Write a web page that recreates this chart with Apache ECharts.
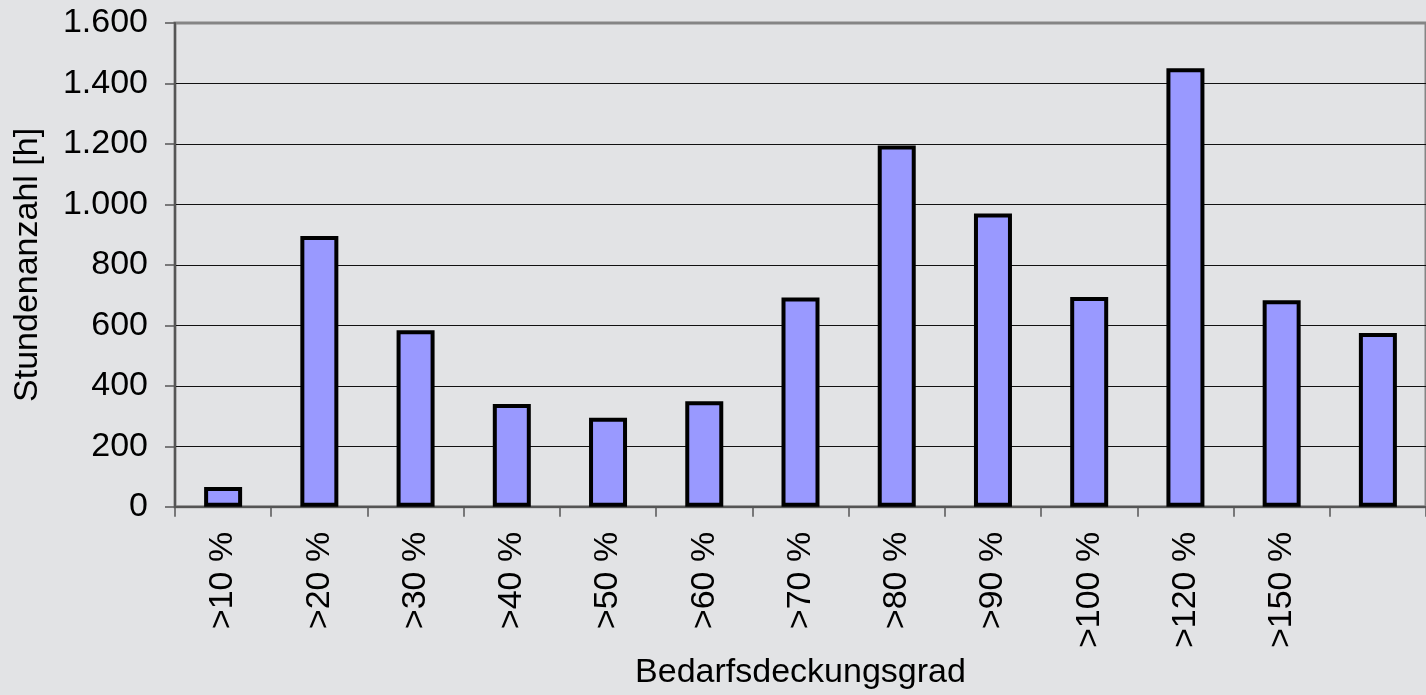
<!DOCTYPE html>
<html>
<head>
<meta charset="utf-8">
<style>
  html, body { margin: 0; padding: 0; background: #e2e3e5; overflow: hidden; }
  #chart { width: 1426px; height: 695px; }
</style>
<script src="https://cdn.jsdelivr.net/npm/echarts@6/dist/echarts.min.js"></script>
</head>
<body>
<div id="chart"></div>
<script>
// Kategorien (die letzte hat im Original keine Beschriftung)
const categories = [">10 %", ">20 %", ">30 %", ">40 %", ">50 %", ">60 %", ">70 %",
  ">80 %", ">90 %", ">100 %", ">120 %", ">150 %", ""];
// Stundenanzahl je Bedarfsdeckungsgrad
const hours = [66, 896, 584, 340, 295, 349, 692, 1195, 970, 694, 1450, 683, 575];
const yMin = 0;
const yMax = 1600;
const yStep = 200;

const font = "'Liberation Sans', Arial, sans-serif";

// Tausenderpunkt wie im Original
function deNumber(v) {
  return String(v).replace(/\B(?=(\d{3})+(?!\d))/g, ".");
}

// oberste Gitterlinie liegt unter dem grauen Rahmen
const gridColors = ["#111", "#111", "#111", "#111", "#111", "#111", "#111", "#111", "#858585"];

const chart = echarts.init(document.getElementById("chart"));
chart.setOption({
  backgroundColor: "#e2e3e5",
  animation: false,
  grid: {
    left: 175,
    top: 23,
    width: 1267,
    height: 495,
    show: true,
    borderColor: "#858585",
    borderWidth: 3,
    backgroundColor: "transparent"
  },
  xAxis: {
    type: "category",
    data: categories,
    name: "Bedarfsdeckungsgrad",
    nameLocation: "middle",
    nameGap: 140,
    nameTextStyle: { fontFamily: font, fontSize: 34, color: "#000" },
    axisLine: { lineStyle: { color: "#555", width: 2 } },
    axisTick: { show: true, length: 10, lineStyle: { color: "#555", width: 1.5 } },
    axisLabel: {
      rotate: 90,
      margin: 25,
      interval: 0,
      fontFamily: font,
      fontSize: 34,
      color: "#000"
    }
  },
  yAxis: {
    type: "value",
    min: yMin,
    max: yMax,
    interval: yStep,
    name: "Stundenanzahl [h]",
    nameLocation: "middle",
    nameRotate: 90,
    nameGap: 130,
    nameTextStyle: { fontFamily: font, fontSize: 34, color: "#000" },
    axisLine: { show: true, lineStyle: { color: "#555", width: 2 } },
    axisTick: { show: true, length: 10, lineStyle: { color: "#555", width: 1.5 } },
    axisLabel: {
      margin: 27,
      fontFamily: font,
      fontSize: 34,
      color: "#000",
      formatter: deNumber
    },
    splitLine: { lineStyle: { color: gridColors, width: 1.2 } }
  },
  series: [
    {
      name: "Stundenanzahl",
      type: "bar",
      data: hours,
      barWidth: 38,
      itemStyle: {
        color: "#9999ff",
        borderColor: "#000",
        borderWidth: 4
      }
    }
  ]
});
</script>
</body>
</html>
